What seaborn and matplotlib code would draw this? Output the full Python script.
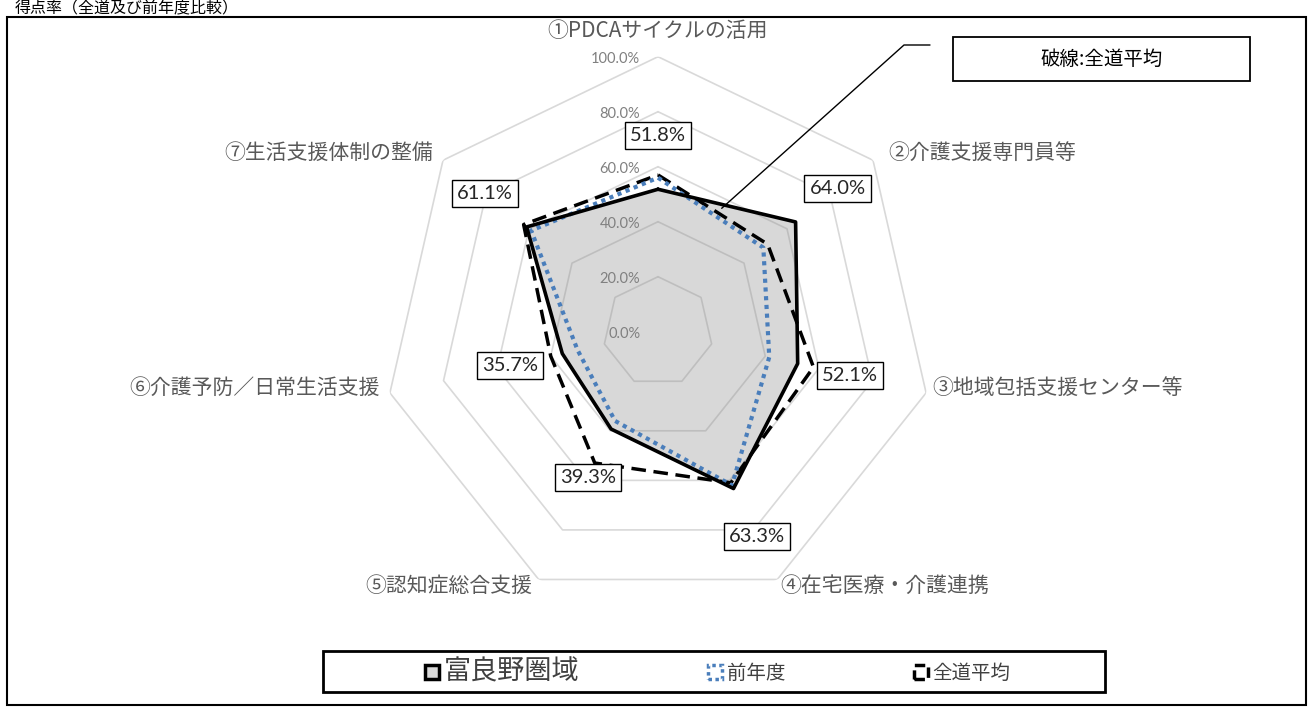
import numpy as np
import pandas as pd
import matplotlib.pyplot as plt
import seaborn as sns
from matplotlib.patches import Rectangle, Patch
from matplotlib.lines import Line2D

# 項目と値（富良野圏域 / 前年度 / 全道平均）
categories = ["①PDCAサイクルの活用", "②介護支援専門員等", "③地域包括支援センター等",
              "④在宅医療・介護連携", "⑤認知症総合支援", "⑥介護予防／日常生活支援",
              "⑦生活支援体制の整備"]
furano = [51.8, 64.0, 52.1, 63.3, 39.3, 35.7, 61.1]
prev_year = [56.0, 49.0, 41.5, 62.0, 36.0, 30.0, 59.0]
hokkaido_avg = [57.0, 51.0, 58.0, 61.0, 53.0, 40.0, 62.5]
ring_ticks = [0, 20, 40, 60, 80, 100]
series_names = ["富良野圏域", "前年度", "全道平均"]

sns.set_style("white")
plt.rcParams['font.family'] = ['Noto Sans CJK JP', 'DejaVu Sans']

W, H = 1312, 709
fig = plt.figure(figsize=(W / 100, H / 100), dpi=100)


def fx(px):
    return px / W


def fy(py):
    return 1 - py / H


cx, cy, R = 658, 331.7, 275
ax = fig.add_axes([fx(cx - R), fy(cy + R), 2 * R / W, 2 * R / H], projection='polar')
ax.set_theta_zero_location('N')
ax.set_theta_direction(-1)

n = len(categories)
theta = np.linspace(0, 2 * np.pi, n, endpoint=False)
theta_c = np.append(theta, 2 * np.pi)


def closed(vals):
    return np.append(vals, vals[0])


# 目盛りの七角形
for r in ring_ticks[1:]:
    ax.plot(theta_c, [r] * (n + 1), color='#d9d9d9', lw=1.2, zorder=1)

df = pd.DataFrame({
    'theta': np.tile(theta_c, 3),
    'value': np.concatenate([closed(furano), closed(prev_year), closed(hokkaido_avg)]),
    'series': np.repeat(series_names, n + 1),
})

ax.fill(theta_c, closed(furano), color='#878787', alpha=0.32, lw=0, zorder=2)
sns.lineplot(data=df[df.series == "全道平均"], x='theta', y='value', sort=False, estimator=None,
             color='black', lw=2.5, ax=ax, zorder=3, legend=False)
ax.lines[-1].set_dashes((4.2, 2.2))
sns.lineplot(data=df[df.series == "前年度"], x='theta', y='value', sort=False, estimator=None,
             color='#4a7ebb', lw=3.0, ax=ax, zorder=4, legend=False)
ax.lines[-1].set_dashes((1.0, 1.1))
sns.lineplot(data=df[df.series == "富良野圏域"], x='theta', y='value', sort=False, estimator=None,
             color='black', lw=2.6, ax=ax, zorder=5, legend=False)

ax.set_ylim(0, 100)
ax.set_xticks([])
ax.set_yticks([])
ax.grid(False)
ax.spines['polar'].set_visible(False)
ax.patch.set_alpha(0)
ax.set_xlabel('')
ax.set_ylabel('')

# 軸の目盛りラベル
for r in ring_ticks:
    ax.annotate(f"{r:.1f}%", xy=(0, r), xytext=(-12.7, -1.5), textcoords='offset points',
                ha='right', va='center', fontsize=10.5, color='#808080', family=['Lato'],
                zorder=6)

# 項目ラベル
label_offsets = [(0, 18.7, 'center'), (10.8, 5, 'left'), (4.3, 3.6, 'left'), (2.2, -5, 'left'),
                 (-4.3, -5, 'right'), (-7.2, 3.6, 'right'), (-7.2, 5, 'right')]
for t, name, (dx, dy, ha) in zip(theta, categories, label_offsets):
    ax.annotate(name, xy=(t, 100), xytext=(dx, dy), textcoords='offset points',
                ha=ha, va='center', fontsize=15, color='#595959', annotation_clip=False)

# データラベル
for t, v in zip(theta, furano):
    ax.text(t, v + 19.5, f"{v:.1f}%", ha='center', va='center', fontsize=14.5, family=['Lato'],
            zorder=7, bbox=dict(boxstyle='square,pad=0.25', fc='white', ec='black', lw=1))

# 凡例
handles = [
    Patch(facecolor='#d9d9d9', edgecolor='black', lw=2.5),
    Patch(facecolor='none', edgecolor='#4a7ebb', lw=2.5, linestyle=(0, (1, 1))),
    Patch(facecolor='none', edgecolor='black', lw=2.5, linestyle=(0, (3, 1.5))),
]
leg = fig.legend(handles, series_names, loc='center', bbox_to_anchor=(fx(718), fy(671.5)),
                 ncol=3, frameon=False, fontsize=14, handlelength=0.72, handleheight=0.72,
                 handletextpad=0.25, columnspacing=6.6)
leg.get_texts()[0].set_fontsize(19.5)
for txt in leg.get_texts():
    txt.set_color('#404040')
fig.add_artist(Rectangle((fx(323), fy(692)), fx(1105) - fx(323), fy(651) - fy(692),
                         transform=fig.transFigure, fill=False, ec='black', lw=2))

# 注記
fig.add_artist(Rectangle((fx(953), fy(81)), fx(1250) - fx(953), fy(37) - fy(81),
                         transform=fig.transFigure, fill=False, ec='black', lw=1.3))
fig.text(fx(1101.5), fy(59), "破線:全道平均", ha='center', va='center', fontsize=14, color='black')
fig.add_artist(Line2D([fx(721.7), fx(904), fx(930)], [fy(208.3), fy(45), fy(45)],
                      transform=fig.transFigure, color='black', lw=1))

# 外枠とタイトル
fig.add_artist(Rectangle((fx(7), fy(705)), fx(1306) - fx(7), fy(17) - fy(705),
                         transform=fig.transFigure, fill=False, ec='black', lw=1.5))
fig.text(fx(15), fy(0), "得点率（全道及び前年度比較）", ha='left', va='top', fontsize=11.5,
         color='black')

fig.savefig("out.png", dpi=100)
